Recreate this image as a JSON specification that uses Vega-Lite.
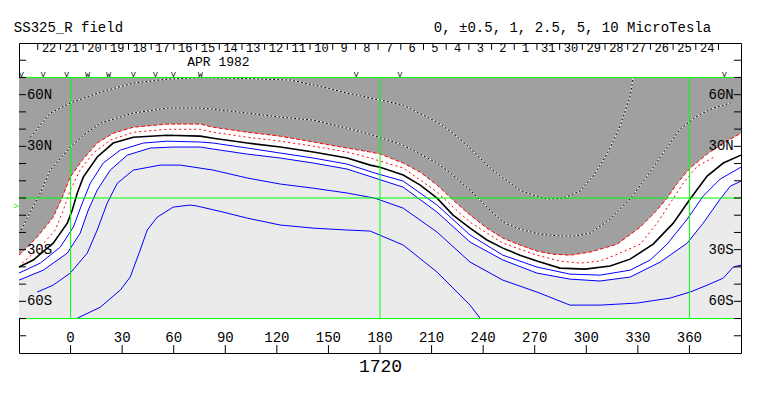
{
"$schema":"https://vega.github.io/schema/vega-lite/v6.json",
"width":722,"height":310,
"autosize":{"type":"none"},
"padding":{"left":19,"top":43,"right":22,"bottom":43},
"background":"white",
"config":{"view":{"stroke":"black","strokeWidth":1},"text":{"font":"Liberation Mono","fill":"black"}},
"datasets":{
"c":[
{"k":"p5","x":-23.4,"y":35.3},{"k":"p5","x":-11.8,"y":49.3},{"k":"p5","x":-0.2,"y":55.1},{"k":"p5","x":17.3,"y":61.5},{"k":"p5","x":36.5,"y":66.7},{"k":"p5","x":56.2,"y":69.0},{"k":"p5","x":75.5,"y":69.9},{"k":"p5","x":92.9,"y":69.6},{"k":"p5","x":127.8,"y":68.5},{"k":"p5","x":147,"y":64.4},{"k":"p5","x":160.9,"y":60.9},{"k":"p5","x":180.1,"y":56.9},{"k":"p5","x":193.5,"y":53.9},{"k":"p5","x":213.2,"y":44.1},{"k":"p5","x":222.5,"y":37.6},{"k":"p5","x":232.4,"y":29.0},{"k":"p5","x":242.2,"y":19.1},{"k":"p5","x":251.5,"y":11.6},{"k":"p5","x":261.4,"y":4.6},{"k":"p5","x":269.1,"y":1.7},{"k":"p5","x":277.3,"y":-0.6},{"k":"p5","x":286.6,"y":-0.1},{"k":"p5","x":296.4,"y":4.0},{"k":"p5","x":303.9,"y":12.7},{"k":"p5","x":312.1,"y":25.5},{"k":"p5","x":319.7,"y":41.8},{"k":"p5","x":325.5,"y":59.2},{"k":"p5","x":327.3,"y":70},
{"k":"p25","x":-28.8,"y":-18.6},{"k":"p25","x":-17.6,"y":2.9},{"k":"p25","x":-11.8,"y":16.2},{"k":"p25","x":-0.2,"y":29.6},{"k":"p25","x":7.4,"y":36.4},{"k":"p25","x":17.3,"y":43.5},{"k":"p25","x":36.5,"y":49.3},{"k":"p25","x":56.2,"y":52.2},{"k":"p25","x":75.5,"y":52.2},{"k":"p25","x":83,"y":51.6},{"k":"p25","x":102.8,"y":49.3},{"k":"p25","x":122,"y":47.0},{"k":"p25","x":141.2,"y":45.2},{"k":"p25","x":160.9,"y":40.5},{"k":"p25","x":174.3,"y":37.0},{"k":"p25","x":193.5,"y":30.7},{"k":"p25","x":213.2,"y":20.3},{"k":"p25","x":222.5,"y":13.3},{"k":"p25","x":232.4,"y":4.6},{"k":"p25","x":242.2,"y":-5.3},{"k":"p25","x":251.5,"y":-14.0},{"k":"p25","x":261.4,"y":-18.1},{"k":"p25","x":273.2,"y":-21.0},{"k":"p25","x":284.7,"y":-22.1},{"k":"p25","x":293.5,"y":-22.1},{"k":"p25","x":302.3,"y":-20.4},{"k":"p25","x":313.9,"y":-12.3},{"k":"p25","x":325.5,"y":-0.6},{"k":"p25","x":335.4,"y":12.7},{"k":"p25","x":344.7,"y":26.1},{"k":"p25","x":354.6,"y":40.0},{"k":"p25","x":364.5,"y":47.6},{"k":"p25","x":373.9,"y":52.2},{"k":"p25","x":383.8,"y":55.1},
{"k":"p1","x":-30,"y":-33.2},{"k":"p1","x":-19.4,"y":-22.7},{"k":"p1","x":-10.1,"y":-11.1},{"k":"p1","x":-4.8,"y":0.5},{"k":"p1","x":-0.2,"y":12.1},{"k":"p1","x":6.8,"y":22.0},{"k":"p1","x":15.5,"y":31.9},{"k":"p1","x":24.8,"y":37.6},{"k":"p1","x":36.5,"y":41.1},{"k":"p1","x":56.2,"y":42.9},{"k":"p1","x":75.5,"y":42.9},{"k":"p1","x":83,"y":41.1},{"k":"p1","x":102.8,"y":38.2},{"k":"p1","x":122,"y":35.9},{"k":"p1","x":141.2,"y":32.5},{"k":"p1","x":160.9,"y":29.0},{"k":"p1","x":174.3,"y":26.7},{"k":"p1","x":180.1,"y":25.5},{"k":"p1","x":193.5,"y":20.3},{"k":"p1","x":203.4,"y":15.0},{"k":"p1","x":213.2,"y":7.5},{"k":"p1","x":222.5,"y":-1.2},{"k":"p1","x":232.4,"y":-9.9},{"k":"p1","x":242.2,"y":-17.5},{"k":"p1","x":251.5,"y":-23.3},{"k":"p1","x":261.4,"y":-27.3},{"k":"p1","x":271.3,"y":-30.8},{"k":"p1","x":280.6,"y":-32.6},{"k":"p1","x":290.5,"y":-33.2},{"k":"p1","x":302.3,"y":-31.4},{"k":"p1","x":318,"y":-26.8},{"k":"p1","x":331.4,"y":-16.9},{"k":"p1","x":340.1,"y":-8.2},{"k":"p1","x":347,"y":-0.1},{"k":"p1","x":352.9,"y":8.6},{"k":"p1","x":360.4,"y":17.4},{"k":"p1","x":370.3,"y":25.5},{"k":"p1","x":379.7,"y":31.9},{"k":"p1","x":390,"y":37.6},
{"k":"p05","x":-28.1,"y":-37.8},{"k":"p05","x":-17.6,"y":-28.5},{"k":"p05","x":-8.9,"y":-18.6},{"k":"p05","x":-4.2,"y":-7.0},{"k":"p05","x":-0.2,"y":4.6},{"k":"p05","x":5.6,"y":16.2},{"k":"p05","x":13.2,"y":26.1},{"k":"p05","x":23.1,"y":33.6},{"k":"p05","x":36.5,"y":38.2},{"k":"p05","x":56.2,"y":39.9},{"k":"p05","x":75.5,"y":39.9},{"k":"p05","x":83,"y":38.2},{"k":"p05","x":102.8,"y":35.3},{"k":"p05","x":122,"y":33.0},{"k":"p05","x":141.2,"y":30.1},{"k":"p05","x":160.9,"y":26.7},{"k":"p05","x":174.3,"y":23.2},{"k":"p05","x":193.5,"y":17.4},{"k":"p05","x":213.2,"y":3.5},{"k":"p05","x":222.5,"y":-5.3},{"k":"p05","x":232.4,"y":-14.0},{"k":"p05","x":242.2,"y":-20.4},{"k":"p05","x":251.5,"y":-26.2},{"k":"p05","x":271.3,"y":-33.2},{"k":"p05","x":284.7,"y":-36.6},{"k":"p05","x":296.4,"y":-37.8},{"k":"p05","x":308,"y":-36.6},{"k":"p05","x":319.7,"y":-32.0},{"k":"p05","x":331.4,"y":-26.8},{"k":"p05","x":341.2,"y":-14.6},{"k":"p05","x":348.8,"y":-3.0},{"k":"p05","x":356.4,"y":8.6},{"k":"p05","x":364.5,"y":18.5},{"k":"p05","x":375.5,"y":24.3},
{"k":"z","x":-30,"y":-40.1},{"k":"z","x":-21.7,"y":-36.0},{"k":"z","x":-10.1,"y":-26.2},{"k":"z","x":-1.9,"y":-14.6},{"k":"z","x":1.0,"y":-7.0},{"k":"z","x":3.9,"y":2.9},{"k":"z","x":7.4,"y":12.1},{"k":"z","x":15.5,"y":23.8},{"k":"z","x":24.8,"y":31.9},{"k":"z","x":36.5,"y":35.3},{"k":"z","x":56.2,"y":36.4},{"k":"z","x":75.5,"y":35.9},{"k":"z","x":83,"y":34.7},{"k":"z","x":102.8,"y":31.9},{"k":"z","x":122,"y":29.6},{"k":"z","x":141.2,"y":26.7},{"k":"z","x":160.9,"y":23.2},{"k":"z","x":174.3,"y":19.1},{"k":"z","x":180.1,"y":17.9},{"k":"z","x":193.5,"y":13.3},{"k":"z","x":203.4,"y":7.5},{"k":"z","x":213.2,"y":-0.1},{"k":"z","x":222.5,"y":-9.9},{"k":"z","x":232.4,"y":-17.5},{"k":"z","x":242.2,"y":-24.4},{"k":"z","x":251.5,"y":-29.1},{"k":"z","x":261.4,"y":-33.2},{"k":"z","x":271.3,"y":-36.6},{"k":"z","x":284.7,"y":-40.7},{"k":"z","x":299.3,"y":-41.3},{"k":"z","x":313.9,"y":-39.5},{"k":"z","x":325.5,"y":-35.5},{"k":"z","x":338.9,"y":-26.8},{"k":"z","x":350.6,"y":-14.6},{"k":"z","x":360.4,"y":-0.6},{"k":"z","x":370.3,"y":12.7},{"k":"z","x":379.7,"y":20.3},{"k":"z","x":390,"y":24.9},
{"k":"n05","x":-30,"y":-43.6},{"k":"n05","x":-17.6,"y":-37.8},{"k":"n05","x":-6,"y":-28.5},{"k":"n05","x":1.6,"y":-16.9},{"k":"n05","x":6.8,"y":-3.0},{"k":"n05","x":11.5,"y":8.6},{"k":"n05","x":19,"y":20.3},{"k":"n05","x":28.9,"y":27.8},{"k":"n05","x":42.3,"y":31.9},{"k":"n05","x":56.2,"y":33.0},{"k":"n05","x":75.5,"y":32.5},{"k":"n05","x":83,"y":31.9},{"k":"n05","x":102.8,"y":29.0},{"k":"n05","x":122,"y":26.1},{"k":"n05","x":141.2,"y":23.2},{"k":"n05","x":160.9,"y":19.7},{"k":"n05","x":177,"y":14.5},{"k":"n05","x":193.5,"y":9.8},{"k":"n05","x":213.2,"y":-4.1},{"k":"n05","x":232.4,"y":-21.5},{"k":"n05","x":251.5,"y":-33.2},{"k":"n05","x":271.3,"y":-40.1},{"k":"n05","x":290.5,"y":-44.2},{"k":"n05","x":308,"y":-44.8},{"k":"n05","x":325.5,"y":-41.9},{"k":"n05","x":337.2,"y":-36.0},{"k":"n05","x":347,"y":-26.8},{"k":"n05","x":358.7,"y":-12.3},{"k":"n05","x":368,"y":1.1},{"k":"n05","x":377.9,"y":11.0},{"k":"n05","x":390,"y":17.9},
{"k":"n1","x":-30,"y":-47.7},{"k":"n1","x":-15.9,"y":-41.9},{"k":"n1","x":-1.9,"y":-32.0},{"k":"n1","x":5.6,"y":-20.4},{"k":"n1","x":10.3,"y":-7.0},{"k":"n1","x":15.5,"y":4.6},{"k":"n1","x":23.1,"y":16.2},{"k":"n1","x":33,"y":24.9},{"k":"n1","x":46.4,"y":29.0},{"k":"n1","x":59.7,"y":29.6},{"k":"n1","x":75.5,"y":29.6},{"k":"n1","x":83,"y":28.4},{"k":"n1","x":102.8,"y":25.5},{"k":"n1","x":122,"y":23.2},{"k":"n1","x":141.2,"y":20.3},{"k":"n1","x":160.9,"y":16.8},{"k":"n1","x":177,"y":11.6},{"k":"n1","x":193.5,"y":6.3},{"k":"n1","x":213.2,"y":-8.2},{"k":"n1","x":232.4,"y":-25.6},{"k":"n1","x":251.5,"y":-36.0},{"k":"n1","x":271.3,"y":-43.6},{"k":"n1","x":290.5,"y":-47.1},{"k":"n1","x":308,"y":-48.2},{"k":"n1","x":325.5,"y":-45.9},{"k":"n1","x":343,"y":-37.2},{"k":"n1","x":358.7,"y":-26.2},{"k":"n1","x":368,"y":-14.6},{"k":"n1","x":377.9,"y":-0.6},{"k":"n1","x":383.8,"y":6.9},{"k":"n1","x":390,"y":9.8},
{"k":"n25","x":-19.4,"y":-54.6},{"k":"n25","x":-10.1,"y":-50.6},{"k":"n25","x":-0.2,"y":-43.6},{"k":"n25","x":9.7,"y":-32.0},{"k":"n25","x":15.5,"y":-18.6},{"k":"n25","x":21.3,"y":-3.0},{"k":"n25","x":27.2,"y":8.6},{"k":"n25","x":36.5,"y":16.2},{"k":"n25","x":52.2,"y":19.1},{"k":"n25","x":63.8,"y":19.1},{"k":"n25","x":83,"y":16.2},{"k":"n25","x":102.8,"y":11.6},{"k":"n25","x":122,"y":8.1},{"k":"n25","x":141.2,"y":5.7},{"k":"n25","x":160.9,"y":2.9},{"k":"n25","x":177,"y":-0.1},{"k":"n25","x":193.5,"y":-5.9},{"k":"n25","x":213.2,"y":-19.8},{"k":"n25","x":232.4,"y":-37.2},{"k":"n25","x":251.5,"y":-47.7},{"k":"n25","x":271.3,"y":-54.6},{"k":"n25","x":290.5,"y":-62.2},{"k":"n25","x":308,"y":-62.2},{"k":"n25","x":329.6,"y":-61.0},{"k":"n25","x":348.8,"y":-58.1},{"k":"n25","x":360.4,"y":-54.6},{"k":"n25","x":370.4,"y":-50.6},{"k":"n25","x":379.7,"y":-46.5},{"k":"n25","x":385.5,"y":-40.1},{"k":"n25","x":390,"y":-39.0},
{"k":"n5","x":3.9,"y":-69.8},{"k":"n5","x":17.3,"y":-63.4},{"k":"n5","x":28.9,"y":-53.5},{"k":"n5","x":34.7,"y":-45.9},{"k":"n5","x":40.5,"y":-30.2},{"k":"n5","x":44.6,"y":-18.6},{"k":"n5","x":50.4,"y":-11.1},{"k":"n5","x":59.7,"y":-5.3},{"k":"n5","x":69.6,"y":-4.1},{"k":"n5","x":73.7,"y":-4.7},{"k":"n5","x":88.8,"y":-8.2},{"k":"n5","x":102.8,"y":-11.7},{"k":"n5","x":122,"y":-15.7},{"k":"n5","x":141.2,"y":-17.5},{"k":"n5","x":160.9,"y":-18.6},{"k":"n5","x":174.3,"y":-19.2},{"k":"n5","x":193.5,"y":-27.3},{"k":"n5","x":213.2,"y":-43.0},{"k":"n5","x":222.5,"y":-52.3},{"k":"n5","x":232.4,"y":-62.2},{"k":"n5","x":238.2,"y":-69.8}
],
"dates":[
{"x":-12.5,"t":"22"},{"x":0.7,"t":"21"},{"x":13.9,"t":"20"},{"x":27.1,"t":"19"},{"x":40.3,"t":"18"},{"x":53.5,"t":"17"},{"x":66.7,"t":"16"},{"x":79.9,"t":"15"},{"x":93.1,"t":"14"},{"x":106.3,"t":"13"},{"x":119.5,"t":"12"},{"x":132.7,"t":"11"},{"x":145.9,"t":"10"},{"x":159.1,"t":"9"},{"x":172.3,"t":"8"},{"x":185.5,"t":"7"},{"x":198.7,"t":"6"},{"x":211.9,"t":"5"},{"x":225.1,"t":"4"},{"x":238.3,"t":"3"},{"x":251.5,"t":"2"},{"x":264.7,"t":"1"},{"x":277.9,"t":"31"},{"x":291.1,"t":"30"},{"x":304.3,"t":"29"},{"x":317.5,"t":"28"},{"x":330.7,"t":"27"},{"x":343.9,"t":"26"},{"x":357.1,"t":"25"},{"x":370.3,"t":"24"}
],
"seps":[{"x":-19.1},{"x":-5.9},{"x":7.3},{"x":20.5},{"x":33.7},{"x":46.9},{"x":60.1},{"x":73.3},{"x":86.5},{"x":99.7},{"x":112.9},{"x":126.1},{"x":139.3},{"x":152.5},{"x":165.7},{"x":178.9},{"x":192.1},{"x":205.3},{"x":218.5},{"x":231.7},{"x":244.9},{"x":258.1},{"x":271.3},{"x":284.5},{"x":297.7},{"x":310.9},{"x":324.1},{"x":337.3},{"x":350.5},{"x":363.7},{"x":376.9}],
"mk":[{"x":-28.6,"t":"V"},{"x":-15.9,"t":"V"},{"x":-2.3,"t":"V"},{"x":9.9,"t":"W"},{"x":22.1,"t":"W"},{"x":36.6,"t":"V"},{"x":49.4,"t":"V"},{"x":59.8,"t":"V"},{"x":75.5,"t":"W"},{"x":166.1,"t":"V"},{"x":191.6,"t":"V"},{"x":380.3,"t":"V"}],
"lat":[{"y":-80},{"y":-70},{"y":-60},{"y":-50},{"y":-40},{"y":-30},{"y":-20},{"y":-10},{"y":0},{"y":10},{"y":20},{"y":30},{"y":40},{"y":50},{"y":60},{"y":70},{"y":80}],
"latlab":[{"y":60,"t":"60N"},{"y":30,"t":"30N"},{"y":-30,"t":"30S"},{"y":-60,"t":"60S"}],
"lon":[{"x":0,"t":"0"},{"x":30,"t":"30"},{"x":60,"t":"60"},{"x":90,"t":"90"},{"x":120,"t":"120"},{"x":150,"t":"150"},{"x":180,"t":"180"},{"x":210,"t":"210"},{"x":240,"t":"240"},{"x":270,"t":"270"},{"x":300,"t":"300"},{"x":330,"t":"330"},{"x":360,"t":"360"}]
},
"layer":[
{"data":{"values":[{}]},"mark":{"type":"rect","fill":"#a0a0a0"},
 "encoding":{"x":{"datum":-30,"type":"quantitative","scale":{"domain":[-30,390],"nice":false,"zero":false},"axis":null},"x2":{"datum":390},
 "y":{"datum":-70,"type":"quantitative","scale":{"domain":[-90,90],"nice":false,"zero":false},"axis":null},"y2":{"datum":70}}},
{"data":{"name":"c"},"transform":[{"filter":"datum.k==='p1'"}],"mark":{"type":"area","fill":"#ffffff"},
 "encoding":{"x":{"field":"x","type":"quantitative","scale":{"domain":[-30,390],"nice":false,"zero":false},"axis":null},
 "y":{"field":"y","type":"quantitative","scale":{"domain":[-90,90],"nice":false,"zero":false},"axis":null},"y2":{"datum":-70}}},
{"data":{"name":"c"},"transform":[{"filter":"datum.k==='n1'"}],"mark":{"type":"area","fill":"#ebebeb"},
 "encoding":{"x":{"field":"x","type":"quantitative","scale":{"domain":[-30,390],"nice":false,"zero":false},"axis":null},
 "y":{"field":"y","type":"quantitative","scale":{"domain":[-90,90],"nice":false,"zero":false},"axis":null},"y2":{"datum":-70}}},
{"data":{"name":"c"},"transform":[{"filter":"datum.k==='p5'||datum.k==='p25'"}],"mark":{"type":"line","stroke":"#ffffff","strokeWidth":1},
 "encoding":{"x":{"field":"x","type":"quantitative","scale":{"domain":[-30,390],"nice":false,"zero":false},"axis":null},
 "y":{"field":"y","type":"quantitative","scale":{"domain":[-90,90],"nice":false,"zero":false},"axis":null},"detail":{"field":"k"}}},
{"data":{"name":"c"},"transform":[{"filter":"datum.k==='p5'||datum.k==='p25'"}],"mark":{"type":"line","stroke":"#000000","strokeWidth":1,"strokeDash":[2,2]},
 "encoding":{"x":{"field":"x","type":"quantitative","scale":{"domain":[-30,390],"nice":false,"zero":false},"axis":null},
 "y":{"field":"y","type":"quantitative","scale":{"domain":[-90,90],"nice":false,"zero":false},"axis":null},"detail":{"field":"k"}}},
{"data":{"name":"c"},"transform":[{"filter":"datum.k==='p1'"}],"mark":{"type":"line","stroke":"#ff0000","strokeWidth":1,"strokeDash":[4,2]},
 "encoding":{"x":{"field":"x","type":"quantitative","scale":{"domain":[-30,390],"nice":false,"zero":false},"axis":null},
 "y":{"field":"y","type":"quantitative","scale":{"domain":[-90,90],"nice":false,"zero":false},"axis":null}}},
{"data":{"name":"c"},"transform":[{"filter":"datum.k==='p05'"}],"mark":{"type":"line","stroke":"#ff0000","strokeWidth":1,"strokeDash":[2,3]},
 "encoding":{"x":{"field":"x","type":"quantitative","scale":{"domain":[-30,390],"nice":false,"zero":false},"axis":null},
 "y":{"field":"y","type":"quantitative","scale":{"domain":[-90,90],"nice":false,"zero":false},"axis":null}}},
{"data":{"name":"c"},"transform":[{"filter":"datum.k==='z'"}],"mark":{"type":"line","stroke":"#000000","strokeWidth":1.6},
 "encoding":{"x":{"field":"x","type":"quantitative","scale":{"domain":[-30,390],"nice":false,"zero":false},"axis":null},
 "y":{"field":"y","type":"quantitative","scale":{"domain":[-90,90],"nice":false,"zero":false},"axis":null}}},
{"data":{"name":"c"},"transform":[{"filter":"datum.k==='n05'||datum.k==='n1'||datum.k==='n25'||datum.k==='n5'"}],"mark":{"type":"line","stroke":"#0000ff","strokeWidth":1},
 "encoding":{"x":{"field":"x","type":"quantitative","scale":{"domain":[-30,390],"nice":false,"zero":false},"axis":null},
 "y":{"field":"y","type":"quantitative","scale":{"domain":[-90,90],"nice":false,"zero":false},"axis":null},"detail":{"field":"k"}}},
{"data":{"values":[{"y":70},{"y":0},{"y":-70}]},"mark":{"type":"rule","stroke":"#00ff00","strokeWidth":1},
 "encoding":{"y":{"field":"y","type":"quantitative","scale":{"domain":[-90,90],"nice":false,"zero":false},"axis":null},
 "x":{"datum":-30,"type":"quantitative","scale":{"domain":[-30,390],"nice":false,"zero":false},"axis":null},"x2":{"datum":390}}},
{"data":{"values":[{"x":0},{"x":180},{"x":360}]},"mark":{"type":"rule","stroke":"#00ff00","strokeWidth":1},
 "encoding":{"x":{"field":"x","type":"quantitative","scale":{"domain":[-30,390],"nice":false,"zero":false},"axis":null},
 "y":{"datum":-70,"type":"quantitative","scale":{"domain":[-90,90],"nice":false,"zero":false},"axis":null},"y2":{"datum":70}}},
{"data":{"name":"lat"},"mark":{"type":"rule","stroke":"#000000","strokeWidth":1},
 "encoding":{"y":{"field":"y","type":"quantitative","scale":{"domain":[-90,90],"nice":false,"zero":false},"axis":null},
 "x":{"datum":-30,"type":"quantitative","scale":{"domain":[-30,390],"nice":false,"zero":false},"axis":null},"x2":{"datum":-25.9}}},
{"data":{"name":"lat"},"mark":{"type":"rule","stroke":"#000000","strokeWidth":1},
 "encoding":{"y":{"field":"y","type":"quantitative","scale":{"domain":[-90,90],"nice":false,"zero":false},"axis":null},
 "x":{"datum":385.9,"type":"quantitative","scale":{"domain":[-30,390],"nice":false,"zero":false},"axis":null},"x2":{"datum":390}}},
{"data":{"name":"latlab"},"mark":{"type":"text","align":"left","baseline":"middle","fontSize":14},
 "encoding":{"y":{"field":"y","type":"quantitative","scale":{"domain":[-90,90],"nice":false,"zero":false},"axis":null},
 "x":{"datum":-25.4,"type":"quantitative","scale":{"domain":[-30,390],"nice":false,"zero":false},"axis":null},"text":{"field":"t"}}},
{"data":{"name":"latlab"},"mark":{"type":"text","align":"right","baseline":"middle","fontSize":14},
 "encoding":{"y":{"field":"y","type":"quantitative","scale":{"domain":[-90,90],"nice":false,"zero":false},"axis":null},
 "x":{"datum":385.8,"type":"quantitative","scale":{"domain":[-30,390],"nice":false,"zero":false},"axis":null},"text":{"field":"t"}}},
{"data":{"name":"lon"},"mark":{"type":"rule","stroke":"#000000","strokeWidth":1},
 "encoding":{"x":{"field":"x","type":"quantitative","scale":{"domain":[-30,390],"nice":false,"zero":false},"axis":null},
 "y":{"datum":-90,"type":"quantitative","scale":{"domain":[-90,90],"nice":false,"zero":false},"axis":null},"y2":{"datum":-85.4}}},
{"data":{"name":"lon"},"mark":{"type":"text","align":"center","baseline":"middle","fontSize":14},
 "encoding":{"x":{"field":"x","type":"quantitative","scale":{"domain":[-30,390],"nice":false,"zero":false},"axis":null},
 "y":{"datum":-81,"type":"quantitative","scale":{"domain":[-90,90],"nice":false,"zero":false},"axis":null},"text":{"field":"t"}}},
{"data":{"name":"seps"},"mark":{"type":"rule","stroke":"#000000","strokeWidth":1},
 "encoding":{"x":{"field":"x","type":"quantitative","scale":{"domain":[-30,390],"nice":false,"zero":false},"axis":null},
 "y":{"datum":90,"type":"quantitative","scale":{"domain":[-90,90],"nice":false,"zero":false},"axis":null},"y2":{"datum":86}}},
{"data":{"name":"dates"},"mark":{"type":"text","align":"center","baseline":"middle","fontSize":12},
 "encoding":{"x":{"field":"x","type":"quantitative","scale":{"domain":[-30,390],"nice":false,"zero":false},"axis":null},
 "y":{"datum":86.9,"type":"quantitative","scale":{"domain":[-90,90],"nice":false,"zero":false},"axis":null},"text":{"field":"t"}}},
{"data":{"name":"mk"},"mark":{"type":"text","align":"center","baseline":"alphabetic","fontSize":8},
 "encoding":{"x":{"field":"x","type":"quantitative","scale":{"domain":[-30,390],"nice":false,"zero":false},"axis":null},
 "y":{"datum":70.4,"type":"quantitative","scale":{"domain":[-90,90],"nice":false,"zero":false},"axis":null},"text":{"field":"t"}}},
{"data":{"values":[{"x":86,"y":78.7,"t":"APR 1982"}]},"mark":{"type":"text","align":"center","baseline":"middle","fontSize":13},
 "encoding":{"x":{"field":"x","type":"quantitative","scale":{"domain":[-30,390],"nice":false,"zero":false},"axis":null},
 "y":{"field":"y","type":"quantitative","scale":{"domain":[-90,90],"nice":false,"zero":false},"axis":null},"text":{"field":"t"}}},
{"data":{"values":[{"x":-33,"y":99,"t":"SS325_R field"}]},"mark":{"type":"text","align":"left","baseline":"middle","fontSize":14},
 "encoding":{"x":{"field":"x","type":"quantitative","scale":{"domain":[-30,390],"nice":false,"zero":false},"axis":null},
 "y":{"field":"y","type":"quantitative","scale":{"domain":[-90,90],"nice":false,"zero":false},"axis":null},"text":{"field":"t"}}},
{"data":{"values":[{"x":372.6,"y":99,"t":"0, ±0.5, 1, 2.5, 5, 10 MicroTesla"}]},"mark":{"type":"text","align":"right","baseline":"middle","fontSize":14},
 "encoding":{"x":{"field":"x","type":"quantitative","scale":{"domain":[-30,390],"nice":false,"zero":false},"axis":null},
 "y":{"field":"y","type":"quantitative","scale":{"domain":[-90,90],"nice":false,"zero":false},"axis":null},"text":{"field":"t"}}},
{"data":{"values":[{"x":180.3,"y":-98.1,"t":"1720"}]},"mark":{"type":"text","align":"center","baseline":"middle","fontSize":18},
 "encoding":{"x":{"field":"x","type":"quantitative","scale":{"domain":[-30,390],"nice":false,"zero":false},"axis":null},
 "y":{"field":"y","type":"quantitative","scale":{"domain":[-90,90],"nice":false,"zero":false},"axis":null},"text":{"field":"t"}}},
{"data":{"values":[{"x":-31.8,"y":-4.7,"t":">"}]},"mark":{"type":"text","align":"center","baseline":"middle","fontSize":9,"fill":"#00ff00"},
 "encoding":{"x":{"field":"x","type":"quantitative","scale":{"domain":[-30,390],"nice":false,"zero":false},"axis":null},
 "y":{"field":"y","type":"quantitative","scale":{"domain":[-90,90],"nice":false,"zero":false},"axis":null},"text":{"field":"t"}}}
]
}
